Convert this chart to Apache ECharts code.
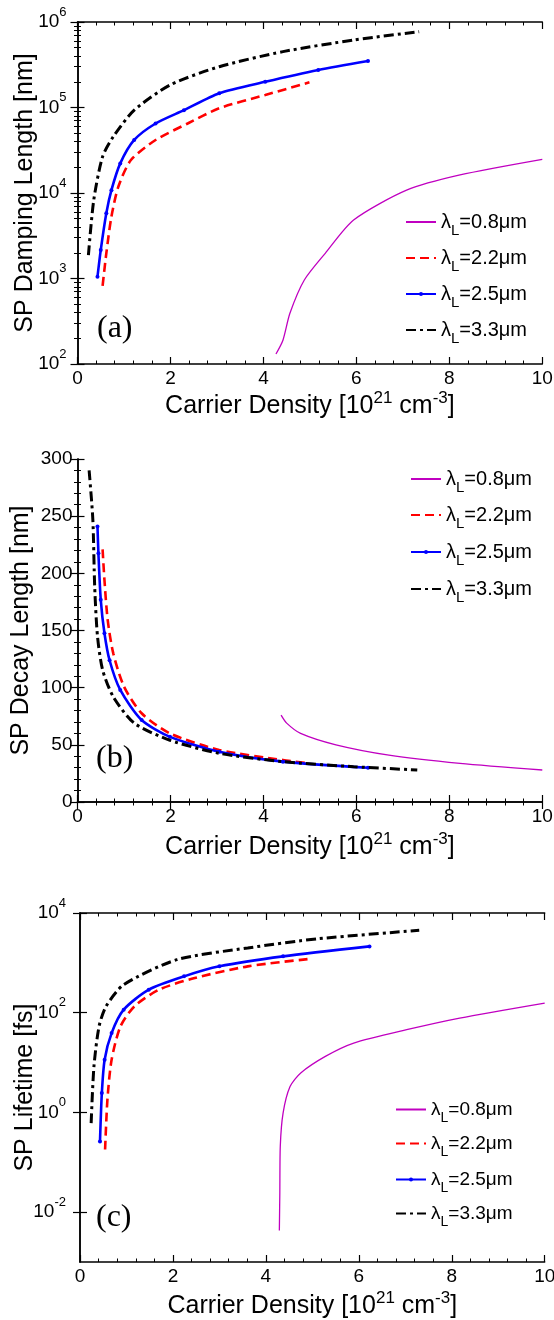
<!DOCTYPE html>
<html><head><meta charset="utf-8">
<script src="https://cdn.jsdelivr.net/npm/echarts@6/dist/echarts.min.js"></script>
<style>html,body{margin:0;padding:0;background:#fff}#c{width:554px;height:1320px}</style>
</head><body><div id="c"></div>
<script>
// ---------- data ----------
const seriesNames = ['λL=0.8μm', 'λL=2.2μm', 'λL=2.5μm', 'λL=3.3μm'];
const panelLabels = ['(a)', '(b)', '(c)'];
const xTitle = 'Carrier Density [10^21 cm^-3]';
const yTitles = ['SP Damping Length [nm]', 'SP Decay Length [nm]', 'SP Lifetime [fs]'];
const xTicks = [0, 2, 4, 6, 8, 10];
const dampTicks = [1e2, 1e3, 1e4, 1e5, 1e6];
const decayTicks = [0, 50, 100, 150, 200, 250, 300];
const lifeTicks = [1e-2, 1e0, 1e2, 1e4];

// (a) SP damping length [nm]
const damp08 = [[4.27,131],[4.42,190],[4.57,392],[4.88,960],[5.33,1970],[5.94,4830],[7.08,10800],[8.23,16300],[10,24800]];
const damp22 = [[0.54,820],[0.62,1970],[0.73,5300],[0.88,11900],[1.15,24300],[1.68,41700],[2.37,65000],[3.05,98000],[4.04,140000],[4.99,197000]];
const damp25 = [[0.43,1050],[0.50,2150],[0.62,5800],[0.73,10800],[0.92,22200],[1.22,41700],[1.68,65000],[2.29,93000],[3.05,147000],[4.04,200000],[5.18,275000],[6.25,350000]];
const damp33 = [[0.235,1880],[0.35,8300],[0.54,26600],[0.77,45600],[1.22,93000],[1.99,183000],[3.05,300000],[4.42,450000],[5.94,615000],[7.35,770000]];

// (b) SP decay length [nm]
const decay08 = [[4.38,76],[4.5,69],[4.8,60],[5.56,50],[6.7,41],[8.23,33.8],[10,28]];
const decay22 = [[0.54,221],[0.58,194],[0.65,159],[0.77,130],[1.0,101],[1.38,77.6],[1.99,60],[3.05,45.5],[4.42,36.7],[4.99,33.8]];
const decay25 = [[0.43,241],[0.45,217.5],[0.50,177],[0.58,147.6],[0.69,124],[0.92,98],[1.38,71.7],[1.99,57],[3.05,44],[4.42,35.3],[6.25,30]];
const decay33 = [[0.25,290],[0.33,247],[0.37,188],[0.43,145],[0.54,115.5],[0.77,92],[1.22,69],[1.99,54],[3.05,42.6],[4.42,35.3],[5.94,30.9],[7.31,28]];

// (c) SP lifetime [fs]
const life08 = [[4.29,0.0043],[4.30,0.024],[4.31,0.21],[4.37,0.97],[4.52,3.3],[4.75,6.2],[5.28,13.3],[5.89,24.6],[7.03,45.6],[8.17,78],[10,156]];
const life22 = [[0.54,0.18],[0.59,1.8],[0.68,11.4],[0.87,53],[1.17,134],[1.70,290],[2.47,497],[3.61,851],[4.98,1210]];
const life25 = [[0.43,0.26],[0.47,2.44],[0.53,11.4],[0.68,39],[0.94,115],[1.48,290],[2.24,536],[3.0,851],[4.37,1350],[6.23,2140]];
const life33 = [[0.24,0.61],[0.30,8.4],[0.41,53],[0.56,134],[0.94,365],[2.09,1160],[3.61,1990],[5.13,3050],[7.30,4490]];

const panelData = [
  [damp08, damp22, damp25, damp33],
  [decay08, decay22, decay25, decay33],
  [life08, life22, life25, life33]
];

// ---------- layout / style ----------
const SANS = '"Liberation Sans", Arial, sans-serif';
const SERIF = '"Liberation Serif", "Times New Roman", serif';
const grids = [
  {left: 77.5, top: 22, width: 464.8, height: 342, outerBoundsMode: 'none', containLabel: false},
  {left: 77.5, top: 459, width: 464.8, height: 343, outerBoundsMode: 'none', containLabel: false},
  {left: 80, top: 913, width: 464.7, height: 349, outerBoundsMode: 'none', containLabel: false}
];
const styles = [
  {color: '#c000c0', width: 1.3, type: 'solid', symbol: 'none', size: 0},
  {color: '#ff0000', width: 2.6, type: [9, 5], symbol: 'none', size: 0},
  {color: '#0000ff', width: 2.6, type: 'solid', symbol: 'circle', size: 4},
  {color: '#000000', width: 3, type: [10, 4, 3, 4], symbol: 'none', size: 0}
];
const legendPos = [
  {left: 405, rows: [225, 261, 297, 333], fs: 20},
  {left: 410, rows: [482, 518, 555, 592], fs: 20},
  {left: 395, rows: [1113, 1147, 1183, 1217], fs: 19}
];
const labelPos = [{x: 97, y: 331}, {x: 96, y: 761}, {x: 96, y: 1220}];
const yNameGap = [40, 44, 42];
const xNameGap = [26, 29, 28];
const lineC = '#000';

function logLabel(v) {
  const e = Math.round(Math.log10(v));
  return '{b|10}{s|' + e + '}';
}
const logRich = {
  b: {fontSize: 19, lineHeight: 33, fontFamily: SANS, color: '#000', verticalAlign: 'middle'},
  s: {fontSize: 13, lineHeight: 17, fontFamily: SANS, color: '#000', verticalAlign: 'top'}
};
function xNameRich() {
  const parts = xTitle.match(/^(.*\[10)\^(\d+)( cm)\^(-\d)(\])$/);
  return '{t|' + parts[1] + '}{s|' + parts[2] + '}{t|' + parts[3] + '}{s|' + parts[4] + '}{t|' + parts[5] + '}';
}
const xNameRichStyle = {
  t: {fontSize: 25, lineHeight: 32, fontFamily: SANS, color: '#000', verticalAlign: 'middle'},
  s: {fontSize: 17, lineHeight: 16, fontFamily: SANS, color: '#000', verticalAlign: 'top'}
};

const xAxes = [], yAxes = [], series = [], legends = [], graphics = [];
for (let p = 0; p < 3; p++) {
  const baseLine = {show: true, lineStyle: {color: lineC, width: 1.5}};
  const xCommon = {
    type: 'value', gridIndex: p, min: xTicks[0], max: xTicks[xTicks.length - 1], interval: 2,
    axisLine: baseLine, splitLine: {show: false},
    axisTick: {show: true, inside: true, length: 7, lineStyle: {color: lineC, width: 1.2}},
    minorTick: {show: true, splitNumber: 5, length: 3.5, lineStyle: {color: lineC, width: 1}}
  };
  xAxes.push(Object.assign({}, xCommon, {
    position: 'bottom',
    axisLabel: {show: true, fontSize: 19, fontFamily: SANS, color: '#000', margin: 5},
    name: xNameRich(), nameLocation: 'middle', nameGap: xNameGap[p], nameMoveOverlap: false,
    nameTextStyle: {rich: xNameRichStyle}
  }));
  xAxes.push(Object.assign({}, xCommon, {position: 'top', axisLabel: {show: false}}));

  let yCommon;
  if (p === 0) {
    yCommon = {
      type: 'log', logBase: 10, min: dampTicks[0], max: dampTicks[dampTicks.length - 1],
      minorTick: {show: true, splitNumber: 9, length: 3.5, lineStyle: {color: lineC, width: 1}}
    };
  } else if (p === 1) {
    yCommon = {
      type: 'value', min: decayTicks[0], max: decayTicks[decayTicks.length - 1], interval: 50,
      minorTick: {show: true, splitNumber: 5, length: 3.5, lineStyle: {color: lineC, width: 1}}
    };
  } else {
    yCommon = {
      type: 'log', logBase: 10, min: 1e-3, max: lifeTicks[lifeTicks.length - 1],
      minorTick: {show: false}
    };
  }
  const yTick = {show: true, inside: true, length: 7, lineStyle: {color: lineC, width: 1.2}};
  if (p === 2) yTick.customValues = lifeTicks;
  let yLabel;
  if (p === 1) {
    yLabel = {show: true, fontSize: 19, fontFamily: SANS, color: '#000', margin: 5};
  } else {
    yLabel = {show: true, formatter: logLabel, rich: logRich, margin: p === 0 ? 11 : 14};
    if (p === 2) yLabel.customValues = lifeTicks;
  }
  yAxes.push(Object.assign({}, yCommon, {
    gridIndex: p, position: 'left', axisLine: baseLine, splitLine: {show: false},
    axisTick: yTick, axisLabel: yLabel,
    name: yTitles[p], nameLocation: 'middle', nameGap: yNameGap[p], nameRotate: 90,
    nameMoveOverlap: false,
    nameTextStyle: {fontSize: 25, fontFamily: SANS, color: '#000'}
  }));
  yAxes.push(Object.assign({}, yCommon, {
    gridIndex: p, position: 'right', axisLine: baseLine, splitLine: {show: false},
    axisTick: yTick, axisLabel: {show: false}
  }));

  for (let s = 0; s < 4; s++) {
    const st = styles[s];
    series.push({
      type: 'line', name: seriesNames[s], xAxisIndex: p * 2, yAxisIndex: p * 2,
      data: panelData[p][s], smooth: 0.25,
      symbol: st.symbol, symbolSize: st.size, showSymbol: st.symbol !== 'none',
      lineStyle: {color: st.color, width: st.width, type: st.type},
      itemStyle: {color: st.color},
      emphasis: {disabled: true}, animation: false, z: 2 + s
    });
    const lp = legendPos[p];
    legends.push({
      data: [seriesNames[s]], orient: 'vertical', left: lp.left, top: lp.rows[s] - 13,
      itemWidth: 30, itemHeight: 5, padding: 0, selectedMode: false,
      itemStyle: {opacity: st.symbol === 'none' ? 0 : 1},
      formatter: n => '{a|λ}{l|L}{a|' + n.slice(2) + '}',
      textStyle: {
        rich: {
          a: {fontSize: lp.fs, lineHeight: lp.fs, fontFamily: SANS, color: '#000', verticalAlign: 'top'},
          l: {fontSize: lp.fs - 5, lineHeight: lp.fs - 5, padding: [11, 0, 0, 0], fontFamily: SANS, color: '#000', verticalAlign: 'top'}
        }
      }
    });
  }
  graphics.push({
    type: 'text', left: labelPos[p].x, top: labelPos[p].y - 18,
    style: {text: panelLabels[p], font: '32px ' + SERIF, fill: '#000'}
  });
}

const chart = echarts.init(document.getElementById('c'), null, {renderer: 'canvas'});
chart.setOption({
  backgroundColor: '#fff',
  animation: false,
  grid: grids,
  xAxis: xAxes,
  yAxis: yAxes,
  legend: legends,
  series: series,
  graphic: graphics
});
</script>
</body></html>
